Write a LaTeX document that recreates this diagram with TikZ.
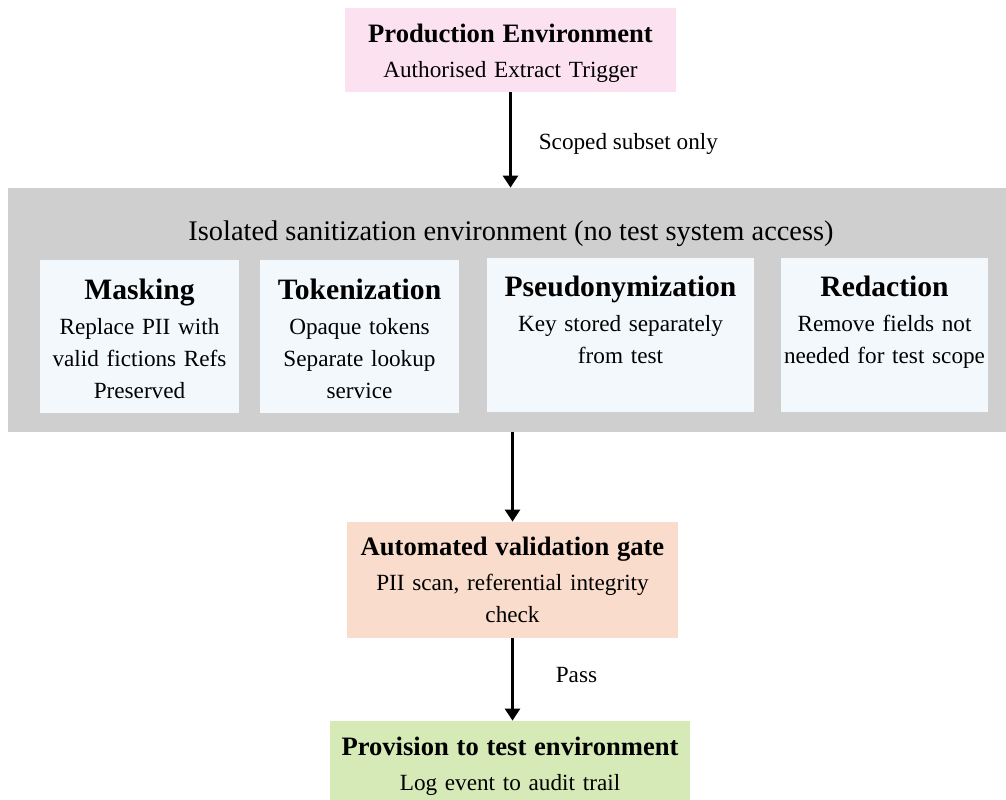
\documentclass[tikz,border=0pt]{standalone}
\usepackage{fontspec}
\setmainfont{Liberation Serif}
\usetikzlibrary{arrows.meta, positioning}
\definecolor{prodpink}{RGB}{252,226,240}
\definecolor{sandgray}{RGB}{207,207,207}
\definecolor{techblue}{RGB}{243,248,252}
\definecolor{gatepeach}{RGB}{249,220,204}
\definecolor{provgreen}{RGB}{213,234,182}
\newcommand{\boxbody}{\fontsize{11.6}{16.2}\selectfont}
\newcommand{\boxhead}{\fontsize{13.3}{16}\selectfont\bfseries}
\newcommand{\techhead}{\fontsize{14.8}{18}\selectfont\bfseries}
\newcommand{\sanhead}{\fontsize{14.2}{17}\selectfont}

\begin{document}
\begin{tikzpicture}[
    x=0.5pt, y=-0.5pt,
    >={Triangle[length=6pt, width=7.5pt]},
    box/.style={rectangle, inner sep=0pt},
    tech/.style={box, fill=techblue, minimum height=76.5pt},
    txt/.style={align=center, inner sep=0pt, anchor=base, font=\boxbody},
    arr/.style={->, line width=1.3pt, color=black},
    lbl/.style={font=\boxbody, inner sep=0pt},
]
\useasboundingbox (0,0) rectangle (1006,799);

% --- Production ---
\node[box, fill=prodpink, minimum width=165.5pt, minimum height=42pt]
      (prod) at (510.5,50) {};
\node[txt, text width=160pt] (prod_txt) at (510.5,42)
      {{\boxhead Production Environment}\\[1.3pt] Authorised Extract Trigger};

% --- Sanitization environment ---
\node[box, fill=sandgray, minimum width=499pt, minimum height=122pt]
      (sanit) at (507,310) {};
\node[anchor=base, inner sep=0pt, font=\sanhead] (san_ttl) at (511,240)
      {Isolated sanitization environment (no test system access)};

% --- Techniques ---
\node[tech, minimum width=99.5pt] (mask) at (139.5,336.5) {};
\node[tech, minimum width=99.5pt] (tok) at (359.5,336.5) {};
\node[tech, minimum width=133.5pt, minimum height=77pt] (pseudo) at (620.5,335) {};
\node[tech, minimum width=103.5pt, minimum height=77pt] (red) at (884.5,335) {};

\node[txt, text width=99pt] (mask_txt) at (mask.center |- 0,299)
      {{\techhead Masking}\\[1.3pt] Replace PII with\\ valid fictions Refs\\ Preserved};
\node[txt, text width=99pt] (tok_txt) at (tok.center |- 0,299)
      {{\techhead Tokenization}\\[1.3pt] Opaque tokens\\ Separate lookup\\ service};
\node[txt, text width=133pt] (pseudo_txt) at (pseudo.center |- 0,296)
      {{\techhead Pseudonymization}\\[1.3pt] Key stored separately\\ from test};
\node[txt, text width=103pt] (red_txt) at (red.center |- 0,296)
      {{\techhead Redaction}\\[1.3pt] Remove fields not\\ needed for test scope};

% --- Validation gate ---
\node[box, fill=gatepeach, minimum width=165.5pt, minimum height=58pt]
      (gate) at (512.5,580) {};
\node[txt, text width=160pt] (gate_txt) at (512.5,555)
      {{\boxhead Automated validation gate}\\[1.3pt] PII scan, referential integrity\\ check};

% --- Provision ---
\node[box, fill=provgreen, minimum width=180pt, minimum height=54.5pt]
      (prov) at (510,775.5) {};
\node[txt, text width=178pt] (prov_txt) at (510,755)
      {{\boxhead Provision to test environment}\\[1.3pt] Log event to audit trail};

% ---- Arrows ----
\draw[arr] (prod.south) -- (prod.south |- sanit.north)
    node[lbl, midway, right=13.5pt, yshift=-2pt] (scope_lbl) {Scoped subset only};
\draw[arr] (gate.north |- sanit.south) -- (gate.north);
\draw[arr] (gate.south) -- (gate.south |- prov.north)
    node[lbl, pos=0.42, right=21pt, yshift=-1pt] (pass_lbl) {Pass};

\end{tikzpicture}
\end{document}
